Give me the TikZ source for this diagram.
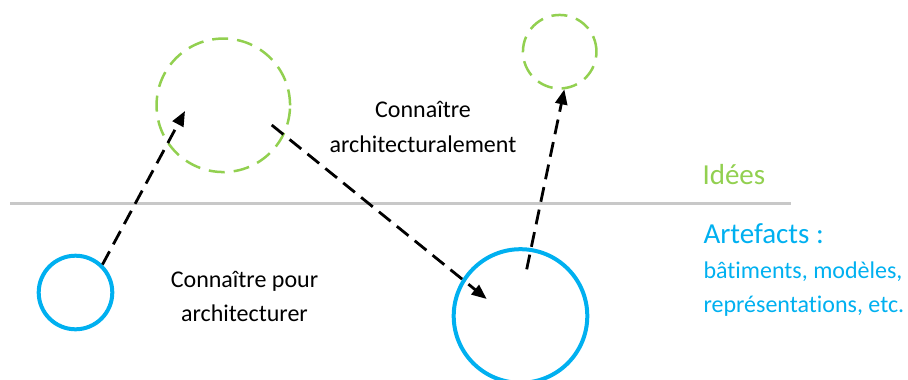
\documentclass[tikz,border=0pt]{standalone}
\usepackage{fontspec}
\setmainfont[RawFeature={-liga,-clig,-calt,-dlig}]{Carlito}
\usetikzlibrary{arrows.meta}
\definecolor{ideagreen}{HTML}{92D050}
\definecolor{artblue}{HTML}{00B0F0}
\definecolor{sepgray}{HTML}{C8C8C8}
\begin{document}
\begin{tikzpicture}[x=1pt,y=-1pt,
  artefact/.style={circle,draw=artblue,line width=4pt,inner sep=0pt},
  idea/.style={circle,draw=ideagreen,line width=2.5pt,inner sep=0pt,dash pattern=on 16pt off 9pt},
  link/.style={line width=2.8pt,dash pattern=on 15pt off 8pt,-{Triangle[length=15pt,width=12pt]}},
  lbl/.style={anchor=base,inner sep=0pt,font=\fontsize{24}{34}\selectfont},
  side/.style={anchor=base west,inner sep=0pt},
]
\useasboundingbox (0,0) rectangle (908,380);
% separator
\draw[sepgray,line width=3pt] (10,203) coordinate (sepL) -- (791,203) coordinate (sepR);
% circles
\node[artefact,minimum size=73.6pt] (A) at (75.5,292.5) {};
\node[idea,minimum size=133.5pt] (B) at (223.3,105.3) {};
\node[artefact,minimum size=133.6pt] (C) at (520.5,316) {};
\node[idea,minimum size=73.5pt] (D) at (559.7,51.7) {};
% arrow points
\coordinate (b1) at (185,111);
\coordinate (b2) at (271.7,125);
\coordinate (c1) at (486.7,299);
\coordinate (c2) at (526.7,269.3);
\draw[link] (A.46.6) -- (b1);
\draw[link] (b2) -- (c1);
\draw[link] (c2) -- (D.-83.4);
% labels
\node[lbl] (t1) at (423,117.3) {Connaître};
\node[lbl] (t2) at (423,152) {architecturalement};
\node[lbl] (t3) at (244.5,287) {Connaître pour};
\node[lbl] (t4) at (244.5,321) {architecturer};
\node[side,text=ideagreen,font=\fontsize{29}{34}\selectfont] (idees) at (702.3,184.3) {Idées};
\node[side,text=artblue,font=\fontsize{29}{34}\selectfont] (art) at (703.3,243.3) {Artefacts :};
\node[side,text=artblue,font=\fontsize{24}{34}\selectfont] (art2) at (703.3,278.3) {bâtiments, modèles,};
\node[side,text=artblue,font=\fontsize{24}{34}\selectfont] (art3) at (703.3,312.7) {représentations, etc.};
\end{tikzpicture}
\end{document}
